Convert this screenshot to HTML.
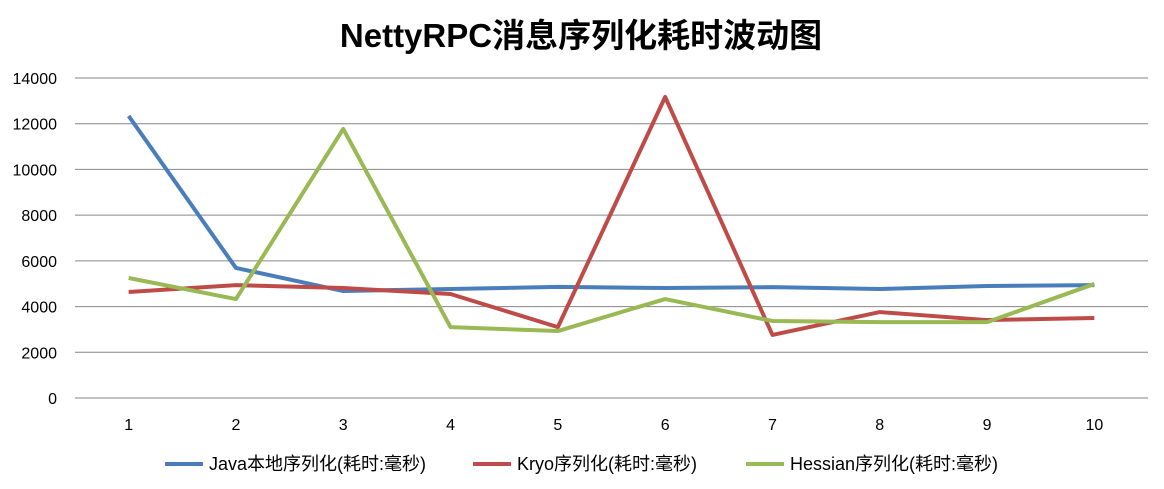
<!DOCTYPE html>
<html><head><meta charset="utf-8"><style>
body{margin:0;background:#fff;}
svg{display:block;font-family:"Liberation Sans","Noto Sans CJK SC",sans-serif;}
</style></head><body>
<svg id="c" width="1164" height="489">
<text x="581" y="47" text-anchor="middle" font-size="33" font-weight="bold" fill="#000">NettyRPC消息序列化耗时波动图</text>
<g id="grid"></g><g id="series"></g><g id="legend"></g>
</svg>
<script>
const categories=["1","2","3","4","5","6","7","8","9","10"];
const yTicks=[0,2000,4000,6000,8000,10000,12000,14000];
const javaValues=[12340,5690,4680,4770,4860,4810,4850,4770,4900,4940];
const kryoValues=[4640,4940,4810,4550,3100,13170,2760,3760,3410,3500];
const hessianValues=[5250,4330,11770,3100,2930,4330,3370,3320,3320,4990];
const seriesNames=["Java本地序列化(耗时:毫秒)","Kryo序列化(耗时:毫秒)","Hessian序列化(耗时:毫秒)"];
const NS="http://www.w3.org/2000/svg";
const L=75,R=1148,T=78,B=398,YMAX=14000;
const xs=i=>L+(R-L)/categories.length*(i+0.5);
const ys=v=>B-(v/YMAX)*(B-T);
function mk(t,a,p){const e=document.createElementNS(NS,t);for(const k in a)e.setAttribute(k,a[k]);p.appendChild(e);return e;}
const g=document.getElementById('grid');
yTicks.forEach(v=>{
 const l=mk('line',{x1:L,x2:R,y1:ys(v),y2:ys(v),stroke:'#868686','stroke-width':1},g);
 
 
 const t=mk('text',{x:57,y:ys(v)+6,'text-anchor':'end','font-size':16,fill:'#000'},g);
 t.textContent=v;
 
 
});
categories.forEach((c,i)=>{
 const t=mk('text',{x:xs(i),y:430,'text-anchor':'middle','font-size':16,fill:'#000'},g);
 t.textContent=c;
 
 
});
const colors=['#4a7ebb','#be4b48','#98b954'];
const sg=document.getElementById('series');
[javaValues,kryoValues,hessianValues].forEach((vals,s)=>{
 const p=mk('polyline',{points:vals.map((v,i)=>xs(i)+','+ys(v)).join(' '),fill:'none',stroke:colors[s],'stroke-width':4,'stroke-linejoin':'round'},sg);
 
 
});
const lg=document.getElementById('legend');
const lx=[165,473,746];
seriesNames.forEach((n,s)=>{
 const e=mk('g',{},lg);
 
 
 mk('line',{x1:lx[s],x2:lx[s]+38,y1:464,y2:464,stroke:colors[s],'stroke-width':4},e);
 const t=mk('text',{x:lx[s]+44,y:470,'font-size':18,fill:'#000'},e);
 t.textContent=n;
});
</script>
</body></html>
